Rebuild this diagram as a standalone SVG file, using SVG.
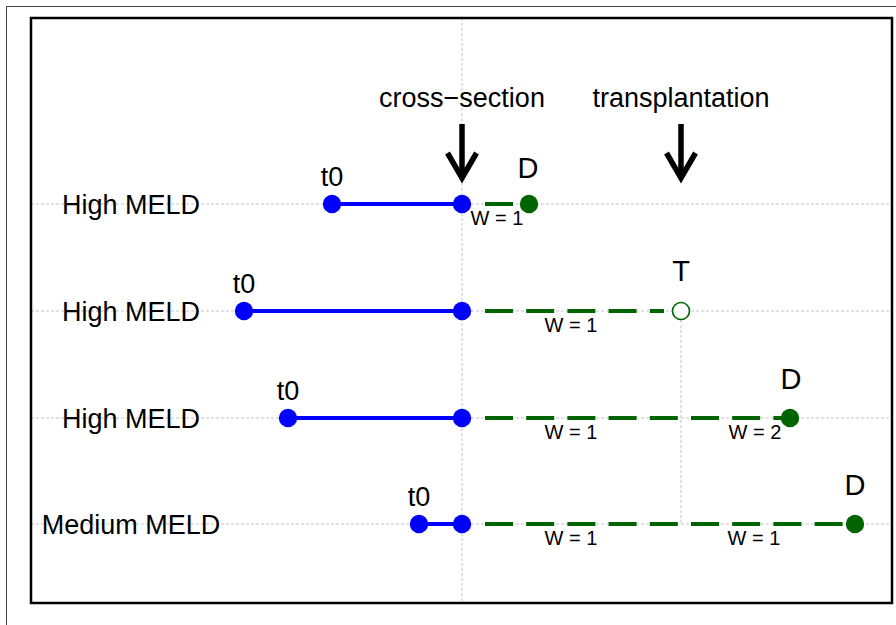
<svg xmlns="http://www.w3.org/2000/svg" width="896" height="625" viewBox="0 0 896 625">
<style>
text{font-family:"Liberation Sans",Arial,Helvetica,sans-serif;fill:#000}
.lab{font-size:27px;text-anchor:middle}
.big{font-size:29px;text-anchor:middle}
.w{font-size:20px;text-anchor:middle}
.grid{stroke:#c4c4c4;stroke-width:1;stroke-dasharray:3 2;fill:none}
.blue{stroke:#0000ff;stroke-width:4;fill:none}
.green{stroke:#006400;stroke-width:4;stroke-dasharray:28 13.2;fill:none}
.bdot{fill:#0000ff}
.gdot{fill:#006400}
.arrow{stroke:#000;stroke-width:5.5;fill:none;stroke-linejoin:miter}
</style>
<rect x="0" y="0" width="896" height="625" fill="#fff"/>
<rect x="6.5" y="6.5" width="900" height="640" fill="none" stroke="#444" stroke-width="1"/>
<g id="grid">
<line class="grid" x1="31" y1="204" x2="892" y2="204"/>
<line class="grid" x1="31" y1="311" x2="892" y2="311"/>
<line class="grid" x1="31" y1="418" x2="892" y2="418"/>
<line class="grid" x1="31" y1="524" x2="892" y2="524"/>
<line class="grid" x1="462" y1="18" x2="462" y2="603"/>
<line class="grid" x1="681" y1="320" x2="681" y2="524"/>
</g>
<rect x="31" y="18" width="861" height="585" fill="none" stroke="#000" stroke-width="2.5"/>
<g id="connectors">
<line class="blue" x1="332" y1="204" x2="462" y2="204"/>
<line class="green" x1="485" y1="204" x2="514" y2="204"/>
<line class="blue" x1="244" y1="311" x2="462" y2="311"/>
<line class="green" x1="485" y1="311" x2="664" y2="311"/>
<line class="blue" x1="288" y1="418" x2="462" y2="418"/>
<line class="green" x1="485" y1="418" x2="782" y2="418"/>
<line class="blue" x1="419" y1="524" x2="462" y2="524"/>
<line class="green" x1="485" y1="524" x2="846" y2="524"/>
</g>
<g id="cross-section">
<text class="lab" x="462" y="107">cross−section</text>
<line class="arrow" x1="462" y1="124" x2="462" y2="177"/>
<polyline class="arrow" points="447.5,153 462,178 476.5,153"/>
</g>
<g id="transplantation">
<text class="lab" x="681" y="107">transplantation</text>
<line class="arrow" x1="681" y1="124" x2="681" y2="177"/>
<polyline class="arrow" points="666.5,153 681,178 695.5,153"/>
</g>
<g id="row1">
<text class="lab" x="131" y="214">High MELD</text>
<text class="lab" x="332" y="186">t0</text>
<circle class="bdot" cx="332" cy="204" r="9.2"/>
<circle class="bdot" cx="462" cy="204" r="9.2"/>
<circle class="gdot" cx="529" cy="204" r="9.2"/>
<text class="big" x="528" y="178">D</text>
<text class="w" x="497" y="225">W = 1</text>
</g>
<g id="row2">
<text class="lab" x="131" y="321">High MELD</text>
<text class="lab" x="244" y="293">t0</text>
<circle class="bdot" cx="244" cy="311" r="9.2"/>
<circle class="bdot" cx="462" cy="311" r="9.2"/>
<circle cx="681" cy="311" r="8.5" fill="#fff" stroke="#006400" stroke-width="1.6"/>
<text class="big" x="681" y="281">T</text>
<text class="w" x="571" y="332">W = 1</text>
</g>
<g id="row3">
<text class="lab" x="131" y="428">High MELD</text>
<text class="lab" x="288" y="400">t0</text>
<circle class="bdot" cx="288" cy="418" r="9.2"/>
<circle class="bdot" cx="462" cy="418" r="9.2"/>
<circle class="gdot" cx="790" cy="418" r="9.2"/>
<text class="big" x="791" y="389">D</text>
<text class="w" x="571" y="439">W = 1</text>
<text class="w" x="755" y="439">W = 2</text>
</g>
<g id="row4">
<text class="lab" x="131" y="534">Medium MELD</text>
<text class="lab" x="419" y="506">t0</text>
<circle class="bdot" cx="419" cy="524" r="9.2"/>
<circle class="bdot" cx="462" cy="524" r="9.2"/>
<circle class="gdot" cx="855" cy="524" r="9.2"/>
<text class="big" x="855" y="495">D</text>
<text class="w" x="571" y="545">W = 1</text>
<text class="w" x="754" y="545">W = 1</text>
</g>
</svg>
